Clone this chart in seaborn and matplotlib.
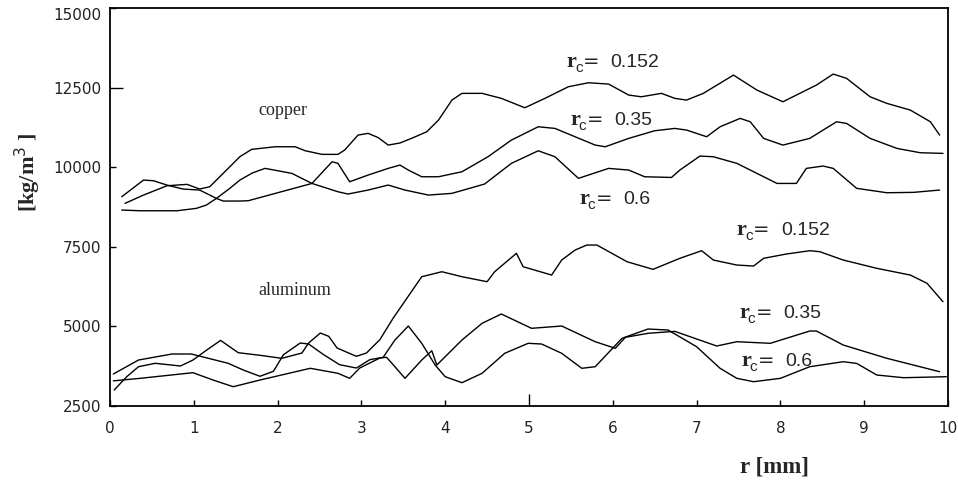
import numpy as np
import pandas as pd
import matplotlib
matplotlib.use("Agg")
import matplotlib.pyplot as plt
import seaborn as sns

# ---------------- data ----------------
cu_152_r = [0.18, 0.40, 0.68, 0.92, 1.07, 1.19, 1.31, 1.43, 1.55, 1.69, 1.97, 2.21, 2.33, 2.53,
            2.72, 2.80, 2.96, 3.08, 3.20, 3.32, 3.46, 3.62, 3.78, 3.92, 4.08, 4.20, 4.44, 4.67,
            4.95, 5.19, 5.47, 5.71, 5.95, 6.19, 6.34, 6.58, 6.74, 6.88, 7.08, 7.44, 7.72, 8.03,
            8.43, 8.63, 8.79, 9.07, 9.27, 9.55, 9.79, 9.90]
cu_152_v = [8865, 9125, 9417, 9461, 9314, 9386, 9700, 10014, 10330, 10560, 10642, 10642, 10516, 10403,
            10403, 10538, 11009, 11063, 10930, 10695, 10760, 10930, 11113, 11480, 12108, 12319, 12319, 12162,
            11867, 12162, 12527, 12652, 12611, 12265, 12212, 12319, 12162, 12108, 12319, 12893, 12422, 12055,
            12580, 12925, 12790, 12212, 12005, 11794, 11427, 11009]

cu_35_r = [0.14, 0.40, 0.52, 0.68, 0.87, 1.07, 1.19, 1.27, 1.35, 1.55, 1.65, 2.41, 2.65, 2.72,
           2.86, 3.08, 3.32, 3.46, 3.56, 3.72, 3.92, 4.20, 4.51, 4.79, 5.11, 5.31, 5.55, 5.79,
           5.91, 6.19, 6.50, 6.74, 6.88, 7.12, 7.28, 7.52, 7.64, 7.80, 8.03, 8.35, 8.67, 8.79,
           9.07, 9.39, 9.67, 9.94]
cu_35_v = [9072, 9596, 9574, 9439, 9314, 9282, 9125, 9020, 8937, 8937, 8947, 9490, 10171, 10121,
           9543, 9753, 9963, 10067, 9910, 9700, 9700, 9857, 10328, 10852, 11270, 11218, 10956, 10695,
           10642, 10905, 11145, 11218, 11166, 10956, 11270, 11533, 11427, 10905, 10695, 10905, 11427, 11375,
           10905, 10591, 10454, 10434]

cu_6_r = [0.14, 0.36, 0.80, 1.03, 1.15, 1.27, 1.43, 1.55, 1.70, 1.85, 2.17, 2.41, 2.72, 2.84,
          3.08, 3.32, 3.52, 3.80, 4.08, 4.47, 4.79, 5.11, 5.31, 5.59, 5.95, 6.19, 6.38, 6.70,
          6.80, 7.04, 7.20, 7.48, 7.96, 8.19, 8.31, 8.51, 8.63, 8.91, 9.27, 9.59, 9.90]
cu_6_v = [8654, 8632, 8632, 8707, 8811, 9020, 9336, 9596, 9820, 9963, 9806, 9490, 9229, 9157,
          9282, 9439, 9282, 9125, 9178, 9471, 10121, 10516, 10328, 9650, 9963, 9910, 9700, 9678,
          9910, 10350, 10328, 10121, 9490, 9490, 9963, 10036, 9963, 9336, 9198, 9210, 9282]

al_152_r = [0.05, 0.20, 0.34, 0.54, 0.84, 0.99, 1.15, 1.32, 1.53, 1.79, 2.05, 2.29, 2.37, 2.51,
            2.61, 2.71, 2.94, 3.06, 3.22, 3.38, 3.72, 3.96, 4.20, 4.50, 4.59, 4.85, 4.93, 5.27,
            5.39, 5.55, 5.69, 5.81, 6.17, 6.48, 6.80, 7.06, 7.20, 7.48, 7.68, 7.80, 8.07, 8.35,
            8.47, 8.75, 9.15, 9.55, 9.75, 9.94]
al_152_v = [3002, 3420, 3734, 3841, 3756, 3944, 4250, 4560, 4174, 4092, 3998, 4164, 4478, 4792,
            4688, 4321, 4060, 4164, 4582, 5263, 6560, 6717, 6560, 6404, 6717, 7295, 6874, 6613,
            7084, 7398, 7555, 7555, 7031, 6792, 7138, 7377, 7084, 6927, 6896, 7138, 7273, 7377,
            7346, 7084, 6824, 6613, 6353, 5775]

al_35_r = [0.04, 0.36, 0.99, 1.23, 1.47, 1.79, 2.39, 2.72, 2.86, 2.98, 3.22, 3.30, 3.40, 3.52,
           3.72, 3.84, 3.90, 4.20, 4.44, 4.67, 5.03, 5.39, 5.79, 6.03, 6.15, 6.42, 6.74, 7.24,
           7.48, 7.88, 8.35, 8.43, 8.75, 9.27, 9.90]
al_35_v = [3290, 3369, 3546, 3316, 3106, 3316, 3684, 3527, 3369, 3693, 4007, 4030, 3734, 3369,
           3944, 4236, 3787, 4572, 5097, 5389, 4940, 5012, 4519, 4312, 4657, 4783, 4844, 4384,
           4519, 4469, 4855, 4855, 4415, 3998, 3577]

al_6_r = [0.04, 0.34, 0.74, 0.97, 1.41, 1.60, 1.79, 1.95, 2.07, 2.27, 2.37, 2.55, 2.74, 2.94,
          3.10, 3.26, 3.40, 3.56, 3.72, 3.88, 4.00, 4.20, 4.44, 4.71, 4.99, 5.15, 5.39, 5.63,
          5.79, 6.11, 6.42, 6.66, 7.00, 7.28, 7.48, 7.68, 8.00, 8.35, 8.75, 8.91, 9.15, 9.47, 9.98]
al_6_v = [3505, 3944, 4133, 4133, 3841, 3620, 3433, 3590, 4111, 4478, 4447, 4111, 3797, 3693,
          3954, 4030, 4572, 5012, 4469, 3787, 3420, 3232, 3527, 4155, 4469, 4447, 4155, 3684,
          3734, 4626, 4918, 4886, 4362, 3684, 3369, 3263, 3369, 3734, 3891, 3838, 3473, 3389, 3420]

x_ticks = [0, 1, 2, 3, 4, 5, 6, 7, 8, 9, 10]
y_ticks = [2500, 5000, 7500, 10000, 12500, 15000]

label_x = [5.45, 5.49, 5.60, 7.48, 7.51, 7.53]
label_y = [13145, 11323, 8843, 7880, 5253, 3760]
label_val = ["0.152", "0.35", "0.6", "0.152", "0.35", "0.6"]

# ---------------- build long table ----------------
series = {
    "cu_0.152": (cu_152_r, cu_152_v), "cu_0.35": (cu_35_r, cu_35_v), "cu_0.6": (cu_6_r, cu_6_v),
    "al_0.152": (al_152_r, al_152_v), "al_0.35": (al_35_r, al_35_v), "al_0.6": (al_6_r, al_6_v),
}
frames = [pd.DataFrame({"r": r, "rho": v, "series": k}) for k, (r, v) in series.items()]
df = pd.concat(frames, ignore_index=True)

sns.set_style("ticks")
plt.rcParams["font.family"] = ["DejaVu Sans"]

fig = plt.figure(figsize=(9.58, 4.83), dpi=100)
ax = fig.add_axes([110 / 958, 77 / 483, 838 / 958, 398 / 483])

sns.lineplot(data=df, x="r", y="rho", units="series", estimator=None, sort=False,
             color="black", linewidth=1.0, ax=ax, legend=False)

ax.set_xlim(0, 10)
ax.set_ylim(2500, 15000)
ax.set_xticks(x_ticks)
ax.set_yticks(y_ticks)
ax.set_xticklabels([str(t) for t in x_ticks])
ax.set_yticklabels([str(t) for t in y_ticks])
ax.set_xlabel("")
ax.set_ylabel("")

for s in ax.spines.values():
    s.set_visible(True)
    s.set_color("black")
    s.set_linewidth(1.3)

ax.tick_params(axis="x", direction="in", length=4.5, width=1.0, pad=11,
               labelsize=11, colors="black", top=False)
ax.tick_params(axis="y", direction="in", length=4.5, width=1.0, pad=6,
               labelsize=11, colors="black", right=False)
for lab in ax.get_xticklabels() + ax.get_yticklabels():
    lab.set_color("#222222")

# longer tick at x = 5 and y = 12500 as in the reference
ax.xaxis.get_major_ticks()[5].tick1line.set_markersize(9)
ax.yaxis.get_major_ticks()[4].tick1line.set_markersize(9)
ax.get_yticklabels()[-1].set_va("top")

# material names
ax.text(1.77, 11637, "copper", fontfamily="Liberation Serif", fontsize=13, va="baseline", ha="left")
ax.text(1.77, 5985, "aluminum", fontfamily="Liberation Serif", fontsize=13, va="baseline", ha="left")

# r_c labels built of pieces
pt = 0.72
for x, y, val in zip(label_x, label_y, label_val):
    ax.annotate("r", xy=(x, y), xytext=(0, 0), textcoords="offset points",
                fontfamily="Liberation Serif", fontweight="bold", fontsize=16,
                va="baseline", ha="left")
    ax.annotate("c", xy=(x, y), xytext=(8.5 * pt, -5 * pt), textcoords="offset points",
                fontfamily="Liberation Sans", fontsize=11, va="baseline", ha="left")
    ax.annotate("=", xy=(x, y), xytext=(16.5 * pt, 0), textcoords="offset points",
                fontfamily="DejaVu Sans", fontsize=14, va="baseline", ha="left")
    ax.annotate(val, xy=(x, y), xytext=(44 * pt, 0), textcoords="offset points",
                fontfamily="Liberation Sans", fontsize=14, va="baseline", ha="left")

# axis titles
fig.text(28 / 958, 1 - 172 / 483, "[kg/m$^3$ ]", rotation=90, ha="center", va="center",
         fontfamily="Liberation Serif", fontweight="bold", fontsize=16)
fig.text(775 / 958, 1 - 467 / 483, "r [mm]", ha="center", va="center",
         fontfamily="Liberation Serif", fontweight="bold", fontsize=16.5)

fig.savefig("out.png", dpi=100, facecolor="white")
